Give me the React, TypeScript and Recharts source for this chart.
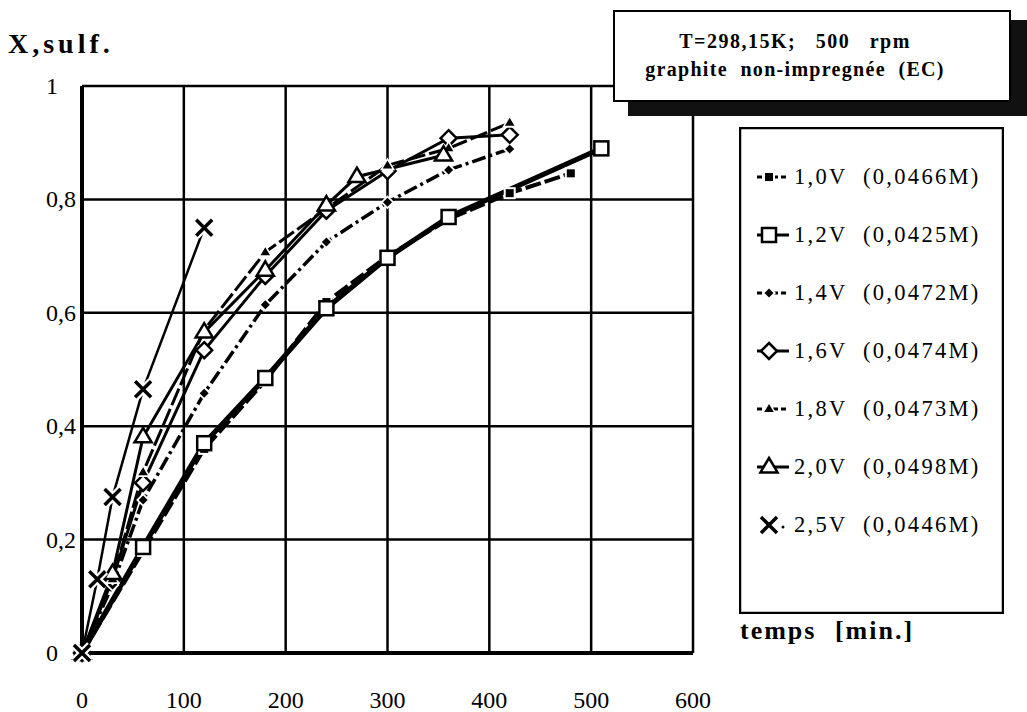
import React from "react";
import { LineChart, Line, XAxis, YAxis, CartesianGrid, Legend } from "recharts";

// sulfide conversion vs time, one array pair per applied voltage
const t10 = [0, 60, 120, 180, 240, 300, 360, 420, 480];
const v10 = [0, 0.18, 0.36, 0.48, 0.619, 0.7, 0.765, 0.811, 0.846];

const t12 = [0, 60, 120, 180, 240, 300, 360, 510];
const v12 = [0, 0.187, 0.37, 0.485, 0.608, 0.697, 0.769, 0.89];

const t14 = [0, 30, 60, 120, 180, 240, 300, 360, 420];
const v14 = [0, 0.12, 0.27, 0.458, 0.614, 0.725, 0.795, 0.852, 0.889];

const t16 = [0, 30, 60, 120, 180, 240, 300, 360, 420];
const v16 = [0, 0.13, 0.3, 0.534, 0.665, 0.78, 0.85, 0.908, 0.914];

const t18 = [0, 30, 60, 120, 180, 300, 360, 420];
const v18 = [0, 0.13, 0.319, 0.57, 0.707, 0.86, 0.89, 0.935];

const t20 = [0, 30, 60, 120, 180, 240, 270, 355];
const v20 = [0, 0.14, 0.381, 0.566, 0.675, 0.79, 0.84, 0.878];

const t25 = [0, 15, 30, 60, 120];
const v25 = [0, 0.13, 0.275, 0.465, 0.75];

const xTicks = [0, 100, 200, 300, 400, 500, 600];
const yTicks = [0, 0.2, 0.4, 0.6, 0.8, 1];

const legendLabels = [
  "1,0V  (0,0466M)",
  "1,2V  (0,0425M)",
  "1,4V  (0,0472M)",
  "1,6V  (0,0474M)",
  "1,8V  (0,0473M)",
  "2,0V  (0,0498M)",
  "2,5V  (0,0446M)",
];

const zip = (t: number[], v: number[]) => t.map((x, i) => ({ t: x, x: v[i] }));

type Kind = "sqFill" | "sqOpen" | "diaFill" | "diaOpen" | "triFill" | "triOpen" | "cross";

const series: { key: string; data: { t: number; x: number }[]; kind: Kind; width: number; dash?: string }[] = [
  { key: legendLabels[0], data: zip(t10, v10), kind: "sqFill", width: 4, dash: "16 4" },
  { key: legendLabels[1], data: zip(t12, v12), kind: "sqOpen", width: 5 },
  { key: legendLabels[2], data: zip(t14, v14), kind: "diaFill", width: 3.5, dash: "14 4 3 4" },
  { key: legendLabels[3], data: zip(t16, v16), kind: "diaOpen", width: 3 },
  { key: legendLabels[4], data: zip(t18, v18), kind: "triFill", width: 3, dash: "18 4" },
  { key: legendLabels[5], data: zip(t20, v20), kind: "triOpen", width: 3 },
  { key: legendLabels[6], data: zip(t25, v25), kind: "cross", width: 2.5 },
];

function Marker({ kind, cx, cy }: { kind: Kind; cx: number; cy: number }) {
  const tri = (r: number) =>
    `${cx},${cy - r} ${cx + r * 0.95},${cy + r * 0.6} ${cx - r * 0.95},${cy + r * 0.6}`;
  const dia = (r: number) => `${cx},${cy - r} ${cx + r},${cy} ${cx},${cy + r} ${cx - r},${cy}`;
  const xPath = (r: number) => `M${cx - r} ${cy - r}L${cx + r} ${cy + r}M${cx + r} ${cy - r}L${cx - r} ${cy + r}`;
  switch (kind) {
    case "sqFill":
      return (
        <g>
          <rect x={cx - 6} y={cy - 6} width={12} height={12} fill="#fff" />
          <rect x={cx - 4} y={cy - 4} width={8} height={8} fill="#000" />
        </g>
      );
    case "sqOpen":
      return <rect x={cx - 7} y={cy - 7} width={14} height={14} fill="#fff" stroke="#000" strokeWidth={2.5} />;
    case "diaFill":
      return (
        <g>
          <polygon points={dia(7)} fill="#fff" />
          <polygon points={dia(4.5)} fill="#000" />
        </g>
      );
    case "diaOpen":
      return <polygon points={dia(8)} fill="#fff" stroke="#000" strokeWidth={2.5} />;
    case "triFill":
      return (
        <g>
          <polygon points={tri(8)} fill="#fff" />
          <polygon points={tri(5)} fill="#000" />
        </g>
      );
    case "triOpen":
      return <polygon points={tri(9)} fill="#fff" stroke="#000" strokeWidth={2.5} />;
    case "cross":
      return (
        <g>
          <path d={xPath(8)} stroke="#fff" strokeWidth={8} />
          <path d={xPath(8)} stroke="#000" strokeWidth={3.5} />
        </g>
      );
  }
}

function LegendBox() {
  return (
    <svg width={265} height={487} style={{ display: "block" }}>
      <rect x={1} y={1} width={263} height={485} fill="#fff" stroke="#000" strokeWidth={2.5} />
      {series.map((s, i) => {
        const y = 50 + i * 58;
        return (
          <g key={s.key}>
            {s.kind === "cross" ? (
              <circle cx={44} cy={y + 2} r={1.5} fill="#000" />
            ) : (
              <line x1={18} x2={50} y1={y} y2={y} stroke="#000" strokeWidth={3} strokeDasharray={s.dash ? "5 3" : undefined} />
            )}
            <Marker kind={s.kind} cx={30} cy={y} />
            <text x={55} y={y + 7} fontSize={22.5} letterSpacing={2.3} fontFamily='"Liberation Serif", serif' style={{ whiteSpace: "pre" }}>
              {s.key}
            </text>
          </g>
        );
      })}
    </svg>
  );
}

const fmt = (v: number) => (v === 0 ? "0" : v === 1 ? "1" : String(v).replace(".", ","));

export default function App() {
  return (
    <div style={{ position: "absolute", left: 0, top: 0, width: 1027, height: 712, background: "#fff", overflow: "hidden", fontFamily: '"Liberation Serif", serif' }}>
      <LineChart width={1027} height={712} margin={{ top: 86, right: 334, bottom: 29, left: 52 }}>
        <CartesianGrid stroke="#000" strokeWidth={2.5} horizontalValues={yTicks} verticalValues={xTicks} />
        <XAxis
          type="number"
          dataKey="t"
          domain={[0, 600]}
          ticks={xTicks}
          height={30}
          axisLine={{ stroke: "#000", strokeWidth: 4 }}
          tickLine={false}
          tick={(p: any) => (
            <text x={p.x} y={708} textAnchor="middle" fontSize={24} fill="#000" fontFamily='"Liberation Serif", serif'>
              {p.payload.value}
            </text>
          )}
        />
        <YAxis
          type="number"
          dataKey="x"
          domain={[0, 1]}
          ticks={yTicks}
          width={30}
          axisLine={{ stroke: "#000", strokeWidth: 4 }}
          tickLine={false}
          tick={(p: any) => (
            <text x={46} y={p.y + 8} textAnchor="start" fontSize={24} fill="#000" fontFamily='"Liberation Serif", serif'>
              {fmt(p.payload.value)}
            </text>
          )}
        />
        <Legend
          layout="horizontal"
          verticalAlign="middle"
          align="center"
          wrapperStyle={{ left: 739, top: 127, width: 265, height: 487 }}
          content={() => <LegendBox />}
        />
        {series.map((s) => (
          <Line
            key={s.key}
            name={s.key}
            data={s.data}
            dataKey="x"
            type="linear"
            stroke="#000"
            strokeWidth={s.width}
            strokeDasharray={s.dash}
            isAnimationActive={false}
            dot={(p: any) => <Marker key={`${s.key}-${p.index}`} kind={s.kind} cx={p.cx} cy={p.cy} />}
            activeDot={false}
          />
        ))}
      </LineChart>
      <svg width={1027} height={712} style={{ position: "absolute", left: 0, top: 0, zIndex: 5, pointerEvents: "none" }}>
        <text x={8} y={53} fontSize={28} fontWeight="bold" letterSpacing={4}>
          X,sulf.
        </text>
        <text x={740} y={639} fontSize={26} fontWeight="bold" letterSpacing={2} wordSpacing={10}>
          temps [min.]
        </text>
        <path d="M628 100 H1027 V116 H628 Z M1008 20 H1027 V100 H1008 Z" fill="#111" />
      </svg>
      <div
        style={{
          position: "absolute",
          left: 613,
          top: 10,
          width: 394,
          height: 88,
          zIndex: 6,
          background: "#fff",
          border: "2.5px solid #000",
        }}
      >
        <svg width={394} height={88} style={{ display: "block" }}>
          <text x={180} y={36} textAnchor="middle" fontSize={20} fontWeight="bold" letterSpacing={1.5} fontFamily='"Liberation Serif", serif' style={{ whiteSpace: "pre" }}>
            {"T=298,15K;   500   rpm"}
          </text>
          <text x={180} y={64} textAnchor="middle" fontSize={20} fontWeight="bold" letterSpacing={1.3} fontFamily='"Liberation Serif", serif' style={{ whiteSpace: "pre" }}>
            {"graphite  non-impregnée  (EC)"}
          </text>
        </svg>
      </div>
    </div>
  );
}
